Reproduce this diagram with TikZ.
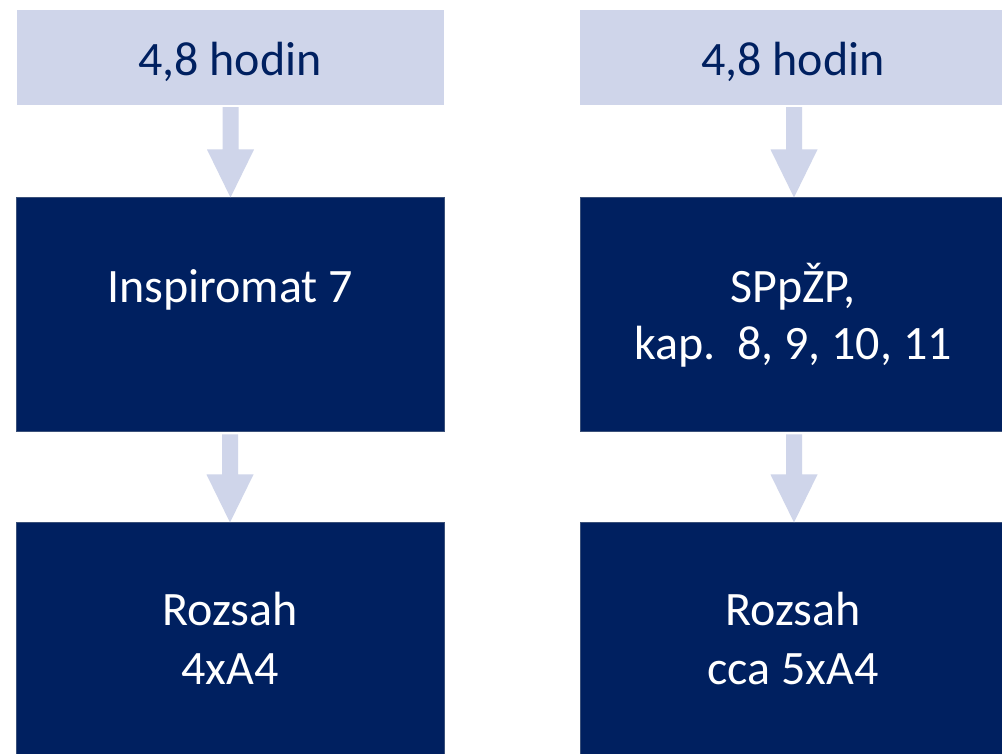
\documentclass[tikz,border=0pt]{standalone}
\usepackage{fontspec}
\setmainfont{Carlito}
\usetikzlibrary{calc}
\definecolor{lightbg}{HTML}{CFD5EA}
\definecolor{darkbg}{HTML}{002060}
\definecolor{darkedge}{HTML}{3A5079}
\definecolor{navytext}{HTML}{002060}
\tikzset{
  lightbox/.style={rectangle, fill=lightbg, draw=none, inner sep=0pt},
  darkbox/.style={rectangle, fill=darkbg, draw=darkedge, line width=1pt, inner sep=0pt},
  bigtext/.style={inner sep=0pt, anchor=base, font=\fontsize{48}{58}\selectfont},
  lighttext/.style={bigtext, text=navytext},
  darktext/.style={bigtext, text=white},
  arrowfill/.style={fill=lightbg, draw=none}
}
\newcommand{\flowarrow}[2]{%
  \fill[arrowfill] let \p1=(#1.south), \p2=(#2.north) in
    (\x1-8pt,\y1-2pt) -- (\x1+8pt,\y1-2pt) -- (\x1+8pt,\y2+48pt) --
    (\x1+23.5pt,\y2+48pt) -- (\x1,\y2) -- (\x1-23.5pt,\y2+48pt) --
    (\x1-8pt,\y2+48pt) -- cycle;}
\begin{document}
\begin{tikzpicture}[x=1pt,y=1pt]
\useasboundingbox (0,0) rectangle (1002,753);
\clip (0,0) rectangle (1002,753);
\fill[white] (0,0) rectangle (1002,753);
% top light boxes
\node[lightbox, minimum width=427, minimum height=95] (t1) at (230.5,695.5) {};
\node[lightbox, minimum width=428, minimum height=95] (t2) at (794,695.5) {};
% middle dark boxes
\node[darkbox, minimum width=428, minimum height=234] (m1) at (230,438) {};
\node[darkbox, minimum width=428, minimum height=234] (m2) at (794,438) {};
% bottom dark boxes
\node[darkbox, minimum width=428, minimum height=252] (b1) at (230,104) {};
\node[darkbox, minimum width=428, minimum height=252] (b2) at (794,104) {};
% texts
\node[lighttext] (t1l) at (230,677) {4,8 hodin};
\node[lighttext] (t2l) at (793,677) {4,8 hodin};
\node[darktext] (m1l) at (230,450) {Inspiromat 7};
\node[darktext] (m2a) at (793,450) {SPpŽP,};
\node[darktext] (m2b) at (793,393) {kap.\ \ 8, 9, 10, 11};
\node[darktext] (b1a) at (230,127) {Rozsah};
\node[darktext] (b1b) at (230,69) {4xA4};
\node[darktext] (b2a) at (793,127) {Rozsah};
\node[darktext] (b2b) at (793,69) {cca 5xA4};
% arrows
\flowarrow{t1}{m1}
\flowarrow{m1}{b1}
\flowarrow{t2}{m2}
\flowarrow{m2}{b2}
\end{tikzpicture}
\end{document}
